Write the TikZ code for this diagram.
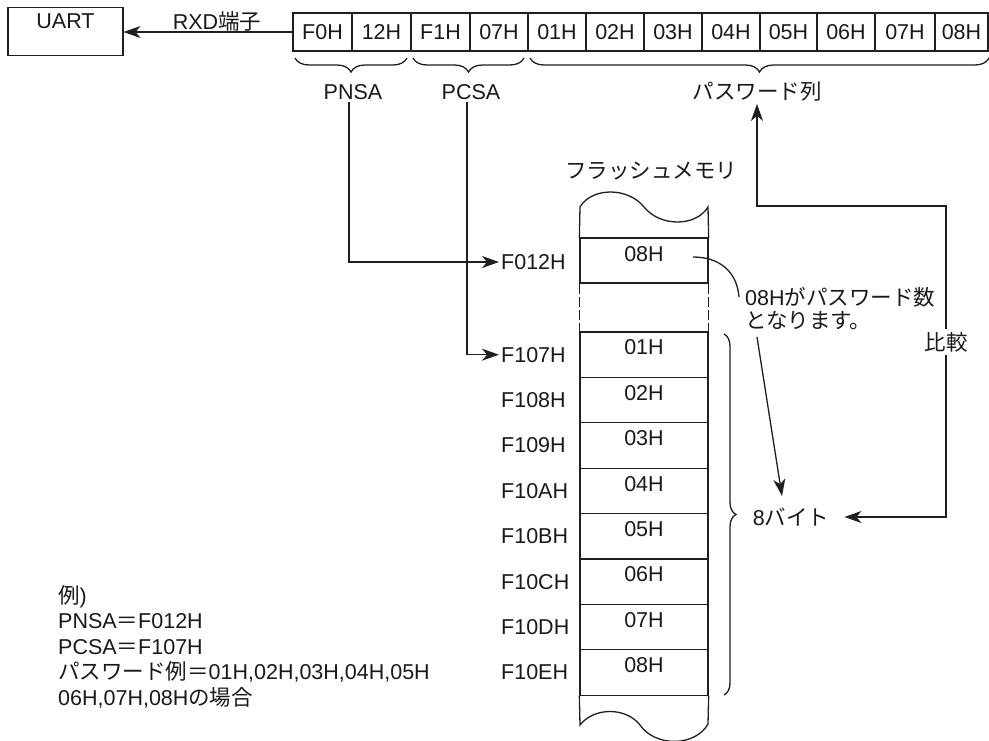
\documentclass[tikz,border=0pt]{standalone}
\usepackage{fontspec}
\setmainfont{Liberation Sans}
\newfontfamily\jp{Noto Sans CJK JP}
\usetikzlibrary{arrows.meta,decorations.pathreplacing}
\begin{document}
\begin{tikzpicture}[x=1pt,y=-1pt,
  every node/.style={font=\fontsize{21.5}{25}\selectfont, inner sep=2pt, text=black!90},
  ln/.style={line width=1.3pt, draw=black!88},
  cell/.style={draw=black!88, line width=1.1pt, minimum height=38pt, inner sep=0pt},
  mem/.style={draw=black!88, line width=1.3pt, minimum width=128pt, minimum height=45.4pt, inner sep=0pt},
  arr/.style={ln, -{Stealth[length=17pt,width=12pt,inset=5pt]}},
  darr/.style={ln, {Stealth[length=17pt,width=12pt,inset=5pt]}-{Stealth[length=17pt,width=12pt,inset=5pt]}},
  brc/.style={ln, decorate, decoration={brace, amplitude=#1}},
  addr/.style={anchor=west},
]
\useasboundingbox (0,0) rectangle (989,740);

% UART box
\node[draw=black!88, line width=1.1pt, minimum width=115pt, minimum height=48pt, inner sep=0pt] (uart) at (65.5,31.5) {};
\node (uarttxt) at (65.5,21) {UART};
\node (rxd) at (217,21) {RXD{\jp 端子}};

% top row of bytes
\foreach \i/\a/\b/\t in {1/293/352/F0H, 2/352/411/12H, 3/411/470/F1H, 4/470/528/07H,
  5/528/586/01H, 6/586/644/02H, 7/644/702/03H, 8/702/760/04H, 9/760/817/05H,
  10/817/875/06H, 11/875/935/07H, 12/935/988/08H}
  \node[cell, minimum width=\b-\a] (c\i) at ({(\a+\b)/2},32) {\t};

\draw[arr] (c1.west) -- (c1.west -| uart.east);

% braces under the row
\draw[brc=14pt] (407,58) -- (295,58);
\draw[brc=14pt] (524,58) -- (413,58);
\draw[brc=14pt] (989,58) -- (530,58);
\node (pnsa) at (353,92) {PNSA};
\node (pcsa) at (471,92) {PCSA};
\node (pwlist) at (757,92) {\jp パスワード列};

% flash memory
\node (fltitle) at (651,171) {\jp フラッシュメモリ};
\node[mem, minimum height=45pt] (m0) at (644,260.5) {};
\node (v0) at (644,254) {08H};
\node[addr] (a0) at (499,262) {F012H};
\foreach \k/\v/\a in {1/01H/F107H, 2/02H/F108H, 3/03H/F109H, 4/04H/F10AH,
  5/05H/F10BH, 6/06H/F10CH, 7/07H/F10DH, 8/08H/F10EH} {
  \pgfmathsetmacro\rtop{332+45.4*(\k-1)}
  \node[mem] (m\k) at (644,\rtop+22.7) {};
  \node (v\k) at (644,\rtop+15.5) {\v};
  \node[addr] (a\k) at (499,\rtop+22.7) {\a};
}
% wavy top and bottom
\draw[ln] (m0.north west) -- (580,207) .. controls (592,187) and (628,187) .. (644,207)
  .. controls (660,227) and (696,227) .. (708,207) -- (m0.north east);
\draw[ln] (m8.south west) -- (580,725) .. controls (594,707) and (626,707) .. (640,725)
  .. controls (655,747) and (695,747) .. (708,724) -- (m8.south east);
% dashed gap
\draw[ln, dash pattern=on 10pt off 3pt] (m0.south west) -- (m1.north west);
\draw[ln, dash pattern=on 10pt off 3pt] (m0.south east) -- (m1.north east);

% address arrows
\draw[arr] ([xshift=-4pt]pnsa.south) |- (a0.west);
\draw[arr] ([xshift=-4pt]pcsa.south) |- (a1.west);

% brace right of memory
\draw[brc=12pt] (724,334) -- (724,695);
\node (b8) at (791,517) {8{\jp バイト}};

% note
\node[anchor=west] (note1) at (743,297) {08H{\jp がパスワード数}};
\node[anchor=west] (note2) at (743,321) {\jp となります。};
\coordinate (cs) at (693,257);
\draw[ln] (cs) .. controls (720,257) and (737,272) .. ([xshift=-4pt]note1.west);
\coordinate (ns) at (757,337);
\coordinate (ne) at (782,496);
\draw[arr] (ns) -- (ne);

% compare loop
\coordinate (k1) at (946,517);
\coordinate (k2) at (946,206);
\draw[darr] ([xshift=13pt]b8.east) -- (k1) -- (k2) -| (pwlist.south);
\node[fill=white, inner sep=3pt] (hikaku) at (946,342) {\jp 比較};

% example text
\node[anchor=west] (ex1) at (56,597) {{\jp 例})};
\node[anchor=west] (ex2) at (56,621) {PNSA{\jp ＝}F012H};
\node[anchor=west] (ex3) at (56,647) {PCSA{\jp ＝}F107H};
\node[anchor=west] (ex4) at (56,672) {{\jp パスワード例＝}01H,02H,03H,04H,05H};
\node[anchor=west] (ex5) at (56,698) {06H,07H,08H{\jp の場合}};
\end{tikzpicture}
\end{document}
